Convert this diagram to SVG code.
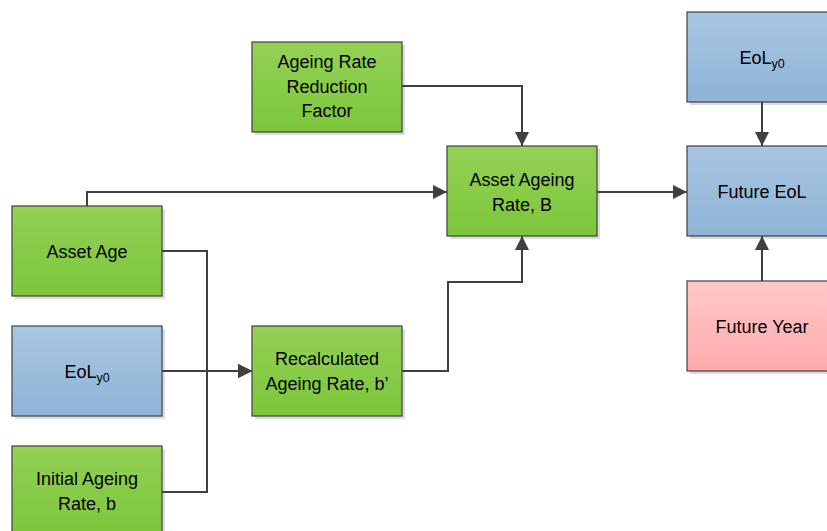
<svg xmlns="http://www.w3.org/2000/svg" width="827" height="531" viewBox="0 0 827 531">
<style>
  .box { stroke: #404040; stroke-width: 1.2; }
  .shadow { fill: #dcdcdc; }
  .g { fill: url(#gGreen); }
  .b { fill: url(#gBlue); }
  .p { fill: url(#gPink); }
  text { font-family: "Liberation Sans", Arial, sans-serif; font-size: 18px; fill: #000; text-anchor: middle; }
  .sub { font-size: 12.5px; }
  .conn { fill: none; stroke: #404040; stroke-width: 2; }
</style>
<defs>
  <linearGradient id="gGreen" x1="0" y1="0" x2="0" y2="1">
    <stop offset="0" stop-color="#94d156"/>
    <stop offset="1" stop-color="#7cc63a"/>
  </linearGradient>
  <linearGradient id="gBlue" x1="0" y1="0" x2="0" y2="1">
    <stop offset="0" stop-color="#a8c6e1"/>
    <stop offset="1" stop-color="#8fb3d6"/>
  </linearGradient>
  <linearGradient id="gPink" x1="0" y1="0" x2="0" y2="1">
    <stop offset="0" stop-color="#ffc9c9"/>
    <stop offset="1" stop-color="#ffaaaa"/>
  </linearGradient>
  <marker id="arrow" viewBox="0 0 10 10" refX="10" refY="5" markerWidth="7" markerHeight="7" orient="auto" markerUnits="strokeWidth">
    <path d="M0,0 L10,5 L0,10 z" fill="#404040"/>
  </marker>
</defs>
<rect width="827" height="531" fill="#ffffff"/>

<g id="asset-age">
  <rect class="shadow" x="15" y="209" width="150" height="90"/>
  <rect class="box g" x="12" y="206" width="150" height="90"/>
  <text x="87" y="258">Asset Age</text>
</g>

<g id="eol-left">
  <rect class="shadow" x="15" y="329" width="150" height="90"/>
  <rect class="box b" x="12" y="326" width="150" height="90"/>
  <text x="87" y="378">EoL<tspan class="sub" dy="4">y0</tspan></text>
</g>

<g id="initial-ageing-rate">
  <rect class="shadow" x="15" y="449" width="150" height="90"/>
  <rect class="box g" x="12" y="446" width="150" height="90"/>
  <text x="87" y="485">Initial Ageing</text>
  <text x="87" y="510">Rate, b</text>
</g>

<g id="ageing-rate-reduction-factor">
  <rect class="shadow" x="255" y="45" width="150" height="90"/>
  <rect class="box g" x="252" y="42" width="150" height="90"/>
  <text x="327" y="68">Ageing Rate</text>
  <text x="327" y="93">Reduction</text>
  <text x="327" y="117">Factor</text>
</g>

<g id="recalculated-ageing-rate">
  <rect class="shadow" x="255" y="329" width="150" height="90"/>
  <rect class="box g" x="252" y="326" width="150" height="90"/>
  <text x="327" y="365">Recalculated</text>
  <text x="327" y="390">Ageing Rate, b’</text>
</g>

<g id="asset-ageing-rate">
  <rect class="shadow" x="450" y="149" width="150" height="90"/>
  <rect class="box g" x="447" y="146" width="150" height="90"/>
  <text x="522" y="186">Asset Ageing</text>
  <text x="522" y="211">Rate, B</text>
</g>

<g id="eol-right">
  <rect class="shadow" x="690" y="15" width="150" height="90"/>
  <rect class="box b" x="687" y="12" width="150" height="90"/>
  <text x="762" y="64">EoL<tspan class="sub" dy="4">y0</tspan></text>
</g>

<g id="future-eol">
  <rect class="shadow" x="690" y="149" width="150" height="90"/>
  <rect class="box b" x="687" y="146" width="150" height="90"/>
  <text x="762" y="198">Future EoL</text>
</g>

<g id="future-year">
  <rect class="shadow" x="690" y="284" width="150" height="90"/>
  <rect class="box p" x="687" y="281" width="150" height="90"/>
  <text x="762" y="333">Future Year</text>
</g>

<g id="connectors">
  <path class="conn" d="M87,206 V192 H447" marker-end="url(#arrow)"/>
  <path class="conn" d="M402,86 H522 V146" marker-end="url(#arrow)"/>
  <path class="conn" d="M162,251 H207 V371 H252" marker-end="url(#arrow)"/>
  <path class="conn" d="M162,492 H207 V371 H252" marker-end="url(#arrow)"/>
  <path class="conn" d="M162,371 H252" marker-end="url(#arrow)"/>
  <path class="conn" d="M402,371 H448 V282 H522 V236" marker-end="url(#arrow)"/>
  <path class="conn" d="M597,192 H687" marker-end="url(#arrow)"/>
  <path class="conn" d="M762,102 V146" marker-end="url(#arrow)"/>
  <path class="conn" d="M762,281 V236" marker-end="url(#arrow)"/>
</g>
</svg>
